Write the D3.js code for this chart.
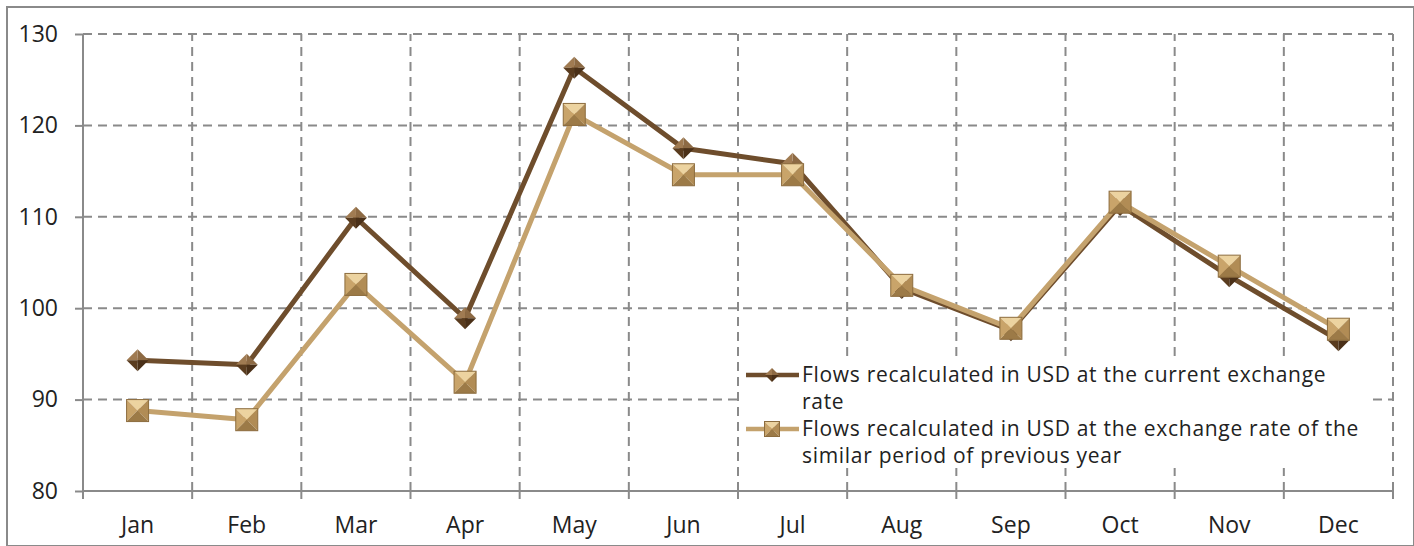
<!DOCTYPE html>
<html>
<head>
<meta charset="UTF-8">
<script src="https://cdn.jsdelivr.net/npm/d3@7/dist/d3.min.js"></script>
<style>
  body { margin: 0; background: #fff; }
  .axis text { font-family: "Open Sans", sans-serif; font-size: 23px; fill: #222; }
  .axis path, .axis line { stroke: #8a8a8a; stroke-width: 2px; }
  .grid line { stroke: #8a8a8a; stroke-width: 2px; stroke-dasharray: 9 6; }
  .leyenda { font-family: "Open Sans", sans-serif; font-size: 21px; letter-spacing: 0.7px; fill: #222; }
</style>
</head>
<body>
<div id="grafico"></div>
<script>
  var meses = ["Jan","Feb","Mar","Apr","May","Jun","Jul","Aug","Sep","Oct","Nov","Dec"];
  var tasaActual = [94.3, 93.8, 109.9, 98.9, 126.3, 117.5, 115.8, 102.2, 97.6, 111.3, 103.5, 96.5];
  var tasaAnterior = [88.8, 87.8, 102.6, 91.9, 121.2, 114.6, 114.6, 102.5, 97.8, 111.6, 104.6, 97.7];
  var ticksY = [80, 90, 100, 110, 120, 130];
  var nombres = [
    ["Flows recalculated in USD at the current exchange", "rate"],
    ["Flows recalculated in USD at the exchange rate of the", "similar period of previous year"]
  ];

  var w = 1414, h = 546;
  var m = {top: 34, right: 21, bottom: 55, left: 83};
  var colorOscuro = "#6e4d2c", colorClaro = "#c4a26d";

  var svg = d3.select("#grafico").append("svg")
    .attr("width", w).attr("height", h);

  // marco exterior
  svg.append("rect").attr("x", 7).attr("y", 7).attr("width", w - 7).attr("height", h - 7)
    .attr("fill", "none").attr("stroke", "#8a8a8a").attr("stroke-width", 2);

  var x = d3.scaleBand().domain(meses).range([m.left, w - m.right]);
  var y = d3.scaleLinear().domain([80, 130]).range([h - m.bottom, m.top]);

  // rejilla horizontal
  svg.append("g").attr("class", "grid")
    .selectAll("line").data(ticksY.slice(1)).enter().append("line")
    .attr("x1", m.left).attr("x2", w - m.right)
    .attr("y1", function(d){ return y(d); }).attr("y2", function(d){ return y(d); });

  // rejilla vertical (limites de categorias)
  svg.append("g").attr("class", "grid")
    .selectAll("line").data(meses.slice(1).concat(["fin"])).enter().append("line")
    .attr("x1", function(d, i){ return x(meses[0]) + (i + 1) * x.bandwidth(); })
    .attr("x2", function(d, i){ return x(meses[0]) + (i + 1) * x.bandwidth(); })
    .attr("y1", y(80)).attr("y2", y(130));

  // ejes
  var ejeY = d3.axisLeft(y).tickValues(ticksY).tickSize(8).tickPadding(17);
  svg.append("g").attr("class", "axis")
    .attr("transform", "translate(" + m.left + ",0)")
    .call(ejeY)
    .call(function(g){ g.select(".domain").attr("d", "M0," + y(130) + "V" + y(80)); });

  var ejeX = d3.axisBottom(x).tickSize(0).tickPadding(26);
  var gx = svg.append("g").attr("class", "axis")
    .attr("transform", "translate(0," + y(80) + ")")
    .call(ejeX);
  gx.select(".domain").attr("d", "M" + m.left + ",0H" + (w - m.right));
  gx.selectAll(".limite").data(d3.range(meses.length + 1)).enter().append("line")
    .attr("x1", function(i){ return m.left + i * x.bandwidth(); })
    .attr("x2", function(i){ return m.left + i * x.bandwidth(); })
    .attr("y1", 0).attr("y2", 8)
    .attr("stroke", "#8a8a8a").attr("stroke-width", 2);

  // leyenda (fondo blanco que tapa la rejilla)
  var lx = 742, ly = 362;
  svg.append("rect").attr("x", lx).attr("y", ly).attr("width", 630).attr("height", 106)
    .attr("fill", "#fff");

  function px(d, i){ return x(meses[i]) + x.bandwidth() / 2; }

  var linea = d3.line().x(function(d, i){ return px(d, i); }).y(function(d){ return y(d); });

  // marcadores con relieve
  function rombo(g, cx, cy, r){
    var caras = [
      ["#8d6a44", [[cx, cy - r], [cx + r, cy], [cx, cy]]],
      ["#a07b52", [[cx, cy - r], [cx - r, cy], [cx, cy]]],
      ["#5a3c1f", [[cx - r, cy], [cx, cy + r], [cx, cy]]],
      ["#4a3018", [[cx + r, cy], [cx, cy + r], [cx, cy]]]
    ];
    caras.forEach(function(c){
      g.append("polygon").attr("points", c[1].map(function(p){ return p.join(","); }).join(" "))
        .attr("fill", c[0]);
    });
  }
  function cuadro(g, cx, cy, r){
    var a = [cx - r, cy - r], b = [cx + r, cy - r], c = [cx + r, cy + r], d = [cx - r, cy + r], o = [cx, cy];
    var caras = [
      ["#ecd3a0", [a, b, o]],
      ["#c9a46a", [a, d, o]],
      ["#b18c55", [b, c, o]],
      ["#9c7a47", [d, c, o]]
    ];
    caras.forEach(function(f){
      g.append("polygon").attr("points", f[1].map(function(p){ return p.join(","); }).join(" "))
        .attr("fill", f[0]);
    });
    g.append("rect").attr("x", cx - r).attr("y", cy - r).attr("width", 2 * r).attr("height", 2 * r)
      .attr("fill", "none").attr("stroke", "#8c6c3e").attr("stroke-width", 1);
  }

  // serie 1 y luego serie 2 encima
  svg.append("path").datum(tasaActual).attr("d", linea)
    .attr("fill", "none").attr("stroke", colorOscuro).attr("stroke-width", 5).attr("stroke-linejoin", "round");
  var gM1 = svg.append("g");
  tasaActual.forEach(function(d, i){ rombo(gM1, px(d, i), y(d), 11); });

  svg.append("path").datum(tasaAnterior).attr("d", linea)
    .attr("fill", "none").attr("stroke", colorClaro).attr("stroke-width", 5).attr("stroke-linejoin", "round");
  var gM2 = svg.append("g");
  tasaAnterior.forEach(function(d, i){ cuadro(gM2, px(d, i), y(d), 11); });

  // contenido de la leyenda
  var colores = [colorOscuro, colorClaro];
  nombres.forEach(function(n, i){
    var yy = 375 + i * 54;
    svg.append("line").attr("x1", lx + 4).attr("x2", lx + 57).attr("y1", yy).attr("y2", yy)
      .attr("stroke", colores[i]).attr("stroke-width", 4.5);
    if (i === 0) rombo(svg, lx + 30, yy, 7); else cuadro(svg, lx + 30, yy, 7.5);
    var t = svg.append("text").attr("class", "leyenda").attr("x", lx + 60).attr("y", yy + 7);
    n.forEach(function(s, j){
      t.append("tspan").attr("x", lx + 60).attr("dy", j === 0 ? 0 : 27).text(s);
    });
  });
</script>
</body>
</html>
